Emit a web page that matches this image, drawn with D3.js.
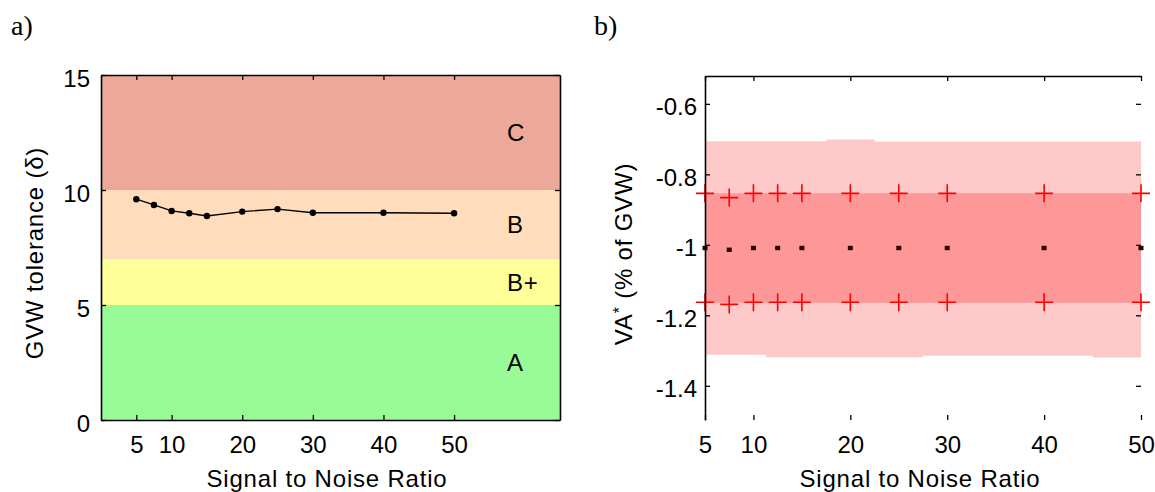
<!DOCTYPE html>
<html><head><meta charset="utf-8">
<script src="https://cdn.jsdelivr.net/npm/d3@7"></script>
<style>
body{margin:0;background:#fff}
text{font-family:"Liberation Sans",Arial,Helvetica,sans-serif;fill:#000}
</style>
</head><body>
<svg id="chart" width="1155" height="492"></svg>
<script>
// ---------- data ----------
const snr = [5, 7.5, 10, 12.5, 15, 20, 25, 30, 40, 50];

// panel a)
const gvwTolerance = [9.6, 9.35, 9.09, 8.99, 8.87, 9.06, 9.17, 9.01, 9.01, 8.99];
const gradeNames = ["A", "B+", "B", "C"];
const gradeLow = [0, 5, 7, 10];
const gradeHigh = [5, 7, 10, 15];
const xTicksA = [5, 10, 20, 30, 40, 50];
const yTicksA = [0, 5, 10, 15];

// panel b)
const vaMean = [-1.009, -1.014, -1.009, -1.009, -1.009, -1.009, -1.009, -1.009, -1.009, -1.009];
const vaPlus = [-0.854, -0.866, -0.854, -0.854, -0.854, -0.854, -0.854, -0.854, -0.854, -0.854];
const vaMinus = [-1.163, -1.169, -1.163, -1.163, -1.163, -1.163, -1.163, -1.163, -1.163, -1.163];
const innerTop = [-0.854, -0.854, -0.854, -0.854, -0.854, -0.854, -0.854, -0.854, -0.854, -0.854];
const innerBottom = [-1.164, -1.164, -1.164, -1.164, -1.164, -1.164, -1.164, -1.164, -1.164, -1.164];
const outerTop = [-0.706, -0.706, -0.706, -0.706, -0.706, -0.701, -0.707, -0.707, -0.707, -0.707];
const outerBottom = [-1.312, -1.312, -1.312, -1.319, -1.319, -1.319, -1.319, -1.315, -1.315, -1.320];
const xTicksB = [5, 10, 20, 30, 40, 50];
const yTicksB = [-0.6, -0.8, -1, -1.2, -1.4];

// ---------- styles ----------
const gradeColors = {"A": "#98fb98", "B+": "#ffff99", "B": "#fedcbc", "C": "#eca898"};
const FS = 24;

const svg = d3.select("#chart");

function styleAxis(g, removeDomain) {
  g.selectAll("text").style("font-size", FS + "px").attr("fill", "#000");
  g.selectAll("line").attr("stroke", "#000").attr("stroke-width", 1.3);
  if (removeDomain) g.select(".domain").remove();
  else g.select(".domain").attr("stroke", "#000").attr("stroke-width", 1.6);
}

// ================= panel a =================
const xA = d3.scaleLinear().domain([0, 65]).range([101, 560]);
const yA = d3.scaleLinear().domain([0, 15]).range([420, 75]);

svg.append("text").attr("x", 11).attr("y", 35)
  .style("font-family", "'Liberation Serif','Times New Roman',serif")
  .style("font-size", "28px").text("a)");

const gA = svg.append("g");
gA.selectAll("rect.grade").data(gradeNames).join("rect")
  .attr("x", xA(0)).attr("width", xA(65) - xA(0))
  .attr("y", (d, i) => yA(gradeHigh[i]))
  .attr("height", (d, i) => yA(gradeLow[i]) - yA(gradeHigh[i]))
  .attr("fill", d => gradeColors[d]);

gA.selectAll("text.grade").data(gradeNames).join("text")
  .attr("x", xA(57.5))
  .attr("y", (d, i) => yA((gradeLow[i] + gradeHigh[i]) / 2))
  .attr("dy", "0.37em")
  .style("font-size", FS + "px").style("letter-spacing", "0.6px")
  .text(d => d);

// line + markers
const lineA = d3.line().x((d, i) => xA(snr[i])).y(d => yA(d));
gA.append("path").datum(gvwTolerance).attr("d", lineA)
  .attr("fill", "none").attr("stroke", "#000").attr("stroke-width", 1.4);
gA.selectAll("circle").data(gvwTolerance).join("circle")
  .attr("cx", (d, i) => xA(snr[i])).attr("cy", d => yA(d)).attr("r", 3.2).attr("fill", "#000");

// axes a
const axA_b = svg.append("g").attr("transform", `translate(0,${yA(0)})`)
  .call(d3.axisBottom(xA).tickValues(xTicksA).tickSizeInner(-5).tickSizeOuter(0).tickPadding(16).tickFormat(d => String(d)));
styleAxis(axA_b, false);
const axA_t = svg.append("g").attr("transform", `translate(0,${yA(15)})`)
  .call(d3.axisTop(xA).tickValues(xTicksA).tickSizeInner(-5).tickSizeOuter(0).tickFormat(""));
styleAxis(axA_t, false);
const axA_l = svg.append("g").attr("transform", `translate(${xA(0)},0)`)
  .call(d3.axisLeft(yA).tickValues(yTicksA).tickSizeInner(-5).tickSizeOuter(0).tickPadding(11).tickFormat(d => String(d)));
styleAxis(axA_l, false);
axA_l.selectAll("text").attr("dy", "0.46em");
const axA_r = svg.append("g").attr("transform", `translate(${xA(65)},0)`)
  .call(d3.axisRight(yA).tickValues(yTicksA).tickSizeInner(-5).tickSizeOuter(0).tickFormat(""));
styleAxis(axA_r, false);

svg.append("text").attr("x", 327).attr("y", 487).attr("text-anchor", "middle")
  .style("font-size", FS + "px").style("letter-spacing", "0.8px").text("Signal to Noise Ratio");
svg.append("text").attr("transform", "translate(43,253) rotate(-90)").attr("text-anchor", "middle")
  .style("font-size", FS + "px").style("letter-spacing", "0.8px").text("GVW tolerance (δ)");

// ================= panel b =================
const xB = d3.scaleLinear().domain([5, 50]).range([705, 1141]);
const yB = d3.scaleLinear().domain([-1.497, -0.521]).range([420, 76]);

svg.append("text").attr("x", 594).attr("y", 35)
  .style("font-family", "'Liberation Serif','Times New Roman',serif")
  .style("font-size", "28px").text("b)");

const gB = svg.append("g");
const areaOuter = d3.area().curve(d3.curveStep)
  .x((d, i) => xB(snr[i])).y0((d, i) => yB(outerBottom[i])).y1(d => yB(d));
const areaInner = d3.area().curve(d3.curveStep)
  .x((d, i) => xB(snr[i])).y0((d, i) => yB(innerBottom[i])).y1(d => yB(d));
gB.append("path").datum(outerTop).attr("d", areaOuter).attr("fill", "#fdc9c9");
gB.append("path").datum(innerTop).attr("d", areaInner).attr("fill", "#fe9898");

const cross = "M-9,0H9M0,-9V9";
gB.selectAll("path.up").data(vaPlus).join("path").attr("class", "up")
  .attr("transform", (d, i) => `translate(${xB(snr[i])},${yB(d)})`)
  .attr("d", cross).attr("stroke", "#ff0000").attr("stroke-width", 1.6).attr("fill", "none");
gB.selectAll("path.dn").data(vaMinus).join("path").attr("class", "dn")
  .attr("transform", (d, i) => `translate(${xB(snr[i])},${yB(d)})`)
  .attr("d", cross).attr("stroke", "#ff0000").attr("stroke-width", 1.6).attr("fill", "none");
gB.selectAll("rect.mean").data(vaMean).join("rect").attr("class", "mean")
  .attr("x", (d, i) => xB(snr[i]) - 2.5).attr("y", d => yB(d) - 2.2)
  .attr("width", 5).attr("height", 4.4).attr("fill", "#2a0000");

const axB_b = svg.append("g").attr("transform", `translate(0,420)`)
  .call(d3.axisBottom(xB).tickValues(xTicksB).tickSizeInner(-5).tickSizeOuter(0).tickPadding(16).tickFormat(d => String(d)));
styleAxis(axB_b, true);
const axB_t = svg.append("g").attr("transform", `translate(0,76)`)
  .call(d3.axisTop(xB).tickValues(xTicksB).tickSizeInner(-5).tickSizeOuter(0).tickFormat(""));
styleAxis(axB_t, false);
const axB_l = svg.append("g").attr("transform", `translate(705,0)`)
  .call(d3.axisLeft(yB).tickValues(yTicksB).tickSizeInner(-5).tickSizeOuter(0).tickPadding(8).tickFormat(d => String(d)));
styleAxis(axB_l, false);
axB_l.selectAll("text").attr("dy", "0.46em");
const axB_r = svg.append("g").attr("transform", `translate(1141,0)`)
  .call(d3.axisRight(yB).tickValues(yTicksB).tickSizeInner(-5).tickSizeOuter(0).tickFormat(""));
styleAxis(axB_r, true);

svg.append("text").attr("x", 920).attr("y", 487).attr("text-anchor", "middle")
  .style("font-size", FS + "px").style("letter-spacing", "0.8px").text("Signal to Noise Ratio");
const yl = svg.append("text").attr("transform", "translate(632,254) rotate(-90)").attr("text-anchor", "middle")
  .style("font-size", FS + "px").style("letter-spacing", "0.8px");
yl.append("tspan").text("VA");
yl.append("tspan").attr("dy", "-0.45em").style("font-size", "16px").text("*");
yl.append("tspan").attr("dy", "0.3em").text(" (% of GVW)");
</script>
</body></html>
